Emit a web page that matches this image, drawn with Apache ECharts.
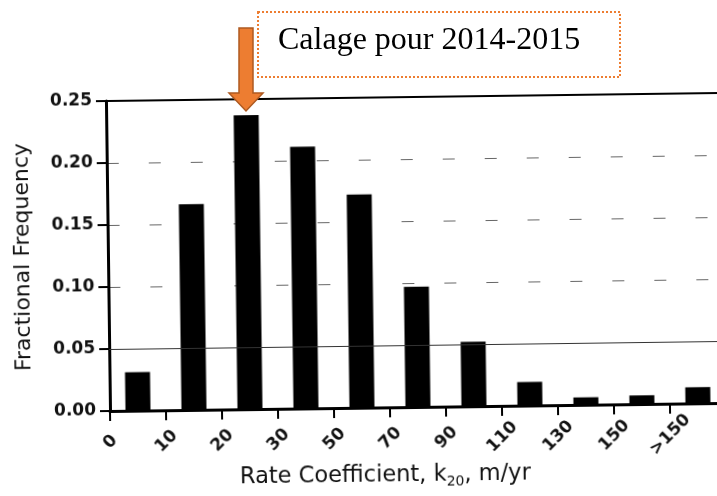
<!DOCTYPE html>
<html>
<head>
<meta charset="utf-8">
<script src="https://cdn.jsdelivr.net/npm/echarts@6/dist/echarts.min.js"></script>
<style>
  html, body { margin: 0; padding: 0; background: #fff; overflow: hidden; }
  #chart {
    position: absolute; left: 0; top: 0; width: 730px; height: 496px;
    transform: rotate(-0.75deg); transform-origin: 110px 411px;
  }
  #note { position: absolute; left: 0; top: 0; width: 717px; height: 496px; pointer-events: none; }
</style>
</head>
<body>
<div id="chart"></div>
<div id="note"></div>
<script>
  // bins (left edge labels) and fractional frequency per bin
  const tickLabels = ['0', '10', '20', '30', '50', '70', '90', '110', '130', '150', '>150']
  const freq = [0.031, 0.166, 0.237, 0.211, 0.172, 0.097, 0.052, 0.019, 0.006, 0.007, 0.013]
  const yTicks = [0, 0.05, 0.10, 0.15, 0.20, 0.25]
  const noteText = 'Calage pour 2014-2015'

  const binPx = 56
  const xMax = (730 - 110) / binPx
  const tickValues = tickLabels.map((t, i) => i)
  const barData = freq.map((v, i) => [i + 0.5, v])

  const font = 'DejaVu Sans'

  const chart = echarts.init(document.getElementById('chart'))
  chart.setOption({
    animation: false,
    backgroundColor: 'transparent',
    title: {
      text: '{a|Rate Coefficient, k}{s|20}{a|, m/yr}',
      left: 239,
      top: 465,
      padding: 0,
      textStyle: {
        fontWeight: 'normal',
        rich: {
          a: { fontFamily: font, fontSize: 22.5, fontWeight: 'normal', color: '#111', lineHeight: 28 },
          s: { fontFamily: font, fontSize: 14, fontWeight: 'normal', color: '#111', lineHeight: 14, verticalAlign: 'bottom' }
        }
      }
    },
    grid: { left: 110, right: 0, top: 101, bottom: 85, containLabel: false, outerBoundsMode: 'none' },
    xAxis: [
      {
        type: 'value',
        min: 0,
        max: xMax,
        position: 'bottom',
        axisLine: { lineStyle: { color: '#000', width: 3 } },
        axisTick: { show: true, customValues: tickValues, length: 10, lineStyle: { color: '#000', width: 2 } },
        axisLabel: {
          customValues: tickValues,
          formatter: v => tickLabels[Math.round(v)],
          rotate: 45,
          align: 'center',
          verticalAlign: 'middle',
          margin: 31,
          fontFamily: font,
          fontWeight: 'bold',
          fontSize: 17,
          color: '#111'
        },
        splitLine: { show: false }
      },
      {
        type: 'value',
        min: 0,
        max: xMax,
        position: 'top',
        axisLine: { show: true, lineStyle: { color: '#000', width: 2 } },
        axisTick: { show: false },
        axisLabel: { show: false },
        splitLine: { show: false }
      }
    ],
    yAxis: {
      type: 'value',
      min: yTicks[0],
      max: yTicks[yTicks.length - 1],
      interval: 0.05,
      name: 'Fractional Frequency',
      nameLocation: 'middle',
      nameRotate: 90,
      nameGap: 74,
      nameTextStyle: { fontFamily: font, fontSize: 22, color: '#111' },
      axisLine: { show: true, lineStyle: { color: '#000', width: 3 } },
      axisTick: { show: true, length: 10, lineStyle: { color: '#000', width: 2 } },
      axisLabel: {
        formatter: v => v.toFixed(2),
        margin: 14,
        fontFamily: font,
        fontWeight: 'bold',
        fontSize: 17,
        color: '#111'
      },
      splitLine: { show: true, lineStyle: { color: '#666', width: 1, type: [12, 30] } }
    },
    series: [
      {
        type: 'bar',
        data: barData,
        barWidth: 25,
        itemStyle: { color: '#000' },
        markLine: {
          silent: true,
          symbol: 'none',
          label: { show: false },
          lineStyle: { color: '#333', width: 1.2, type: 'solid' },
          data: [{ yAxis: 0.05 }]
        }
      }
    ]
  })

  // orange annotation added on top of the scanned figure
  const note = echarts.init(document.getElementById('note'))
  note.setOption({
    animation: false,
    backgroundColor: 'transparent',
    graphic: [
      {
        type: 'rect',
        shape: { x: 258, y: 12, width: 362, height: 65 },
        style: { fill: '#fff', stroke: '#ED7D31', lineWidth: 2, lineDash: [2, 2] }
      },
      {
        type: 'text',
        x: 278,
        y: 41,
        style: { text: noteText, fontFamily: 'Liberation Serif', fontSize: 32, fill: '#000', verticalAlign: 'middle' }
      },
      {
        type: 'polygon',
        shape: { points: [[239, 28], [253, 28], [253, 93], [263, 93], [246, 111], [229, 93], [239, 93]] },
        style: { fill: '#ED7D31', stroke: '#AE5A21', lineWidth: 1.5 }
      }
    ]
  })
</script>
</body>
</html>
